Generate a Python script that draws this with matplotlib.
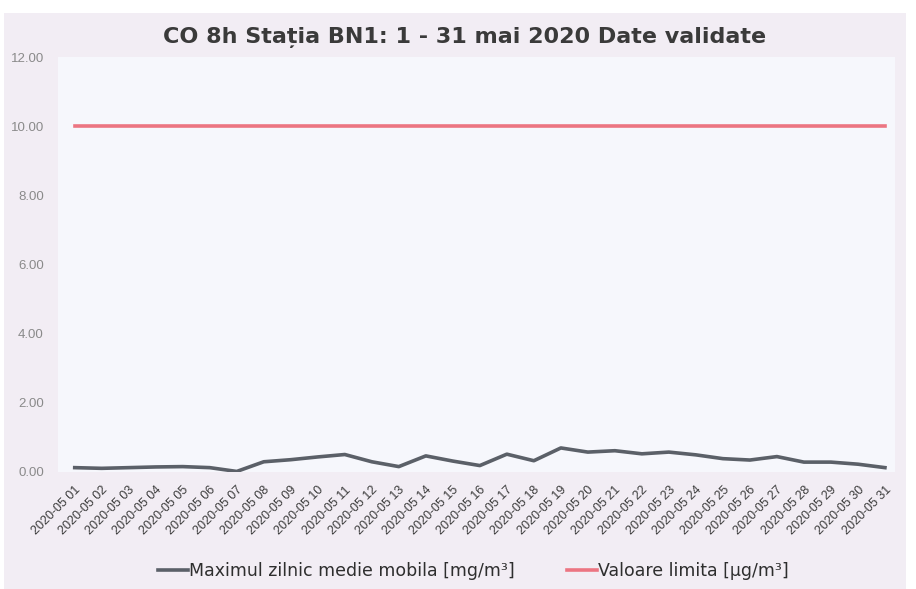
import matplotlib.pyplot as plt
from matplotlib.patches import Rectangle

plt.rcParams['font.family'] = ['Liberation Sans', 'DejaVu Sans']

# date (zile mai 2020)
zile = [f"2020-05 {d:02d}" for d in range(1, 32)]

# Maximul zilnic medie mobila [mg/m3]
co_max = [0.12, 0.10, 0.12, 0.14, 0.15, 0.12, 0.01, 0.29, 0.35, 0.43,
          0.50, 0.29, 0.15, 0.46, 0.31, 0.18, 0.51, 0.32, 0.69, 0.57,
          0.61, 0.52, 0.57, 0.49, 0.38, 0.34, 0.44, 0.28, 0.28, 0.22,
          0.12]

# valoare limita
limita = [10.0] * 31

y_ticks = [0, 2, 4, 6, 8, 10, 12]

fig = plt.figure(figsize=(9.16, 5.89), dpi=100, facecolor='white')
# fundal chart (usor roz)
fig.patches.append(Rectangle((0.004, 0.0), 0.985, 0.978, transform=fig.transFigure,
                             facecolor='#f2edf4', edgecolor='none', zorder=-5))

ax = fig.add_axes([0.063, 0.199, 0.914, 0.704])
ax.set_zorder(2)
ax.set_facecolor('#f6f7fc')

x = list(range(len(zile)))
l1, = ax.plot(x, co_max, color='#5b6068', linewidth=2.6,
              label='Maximul zilnic medie mobila [mg/m³]')
l2, = ax.plot(x, limita, color='#ec7582', linewidth=2.6,
              label='Valoare limita [µg/m³]')

ax.set_xlim(-0.63, 30.37)
ax.set_ylim(0, 12)
ax.set_yticks(y_ticks)
ax.set_yticklabels([f"{v:.2f}" for v in y_ticks], color='#8a8a8a', fontsize=9.5)
ax.set_xticks(x)
ax.set_xticklabels(zile, rotation=45, ha='right', va='top', rotation_mode='anchor',
                   fontsize=9, color='#3c3c3c')
ax.tick_params(axis='y', length=0, pad=10)
ax.tick_params(axis='x', length=0, pad=9)
for s in ax.spines.values():
    s.set_visible(False)

fig.text(0.507, 0.937, 'CO 8h Stația BN1: 1 - 31 mai 2020 Date validate',
         ha='center', va='center', fontsize=16, fontweight='bold', color='#3a3a3a',
         family='DejaVu Sans')

fig.legend(handles=[l1, l2], loc='center', bbox_to_anchor=(0.517, 0.03), ncol=2,
           frameon=False, prop={'family': 'DejaVu Sans', 'size': 12.5},
           handlelength=1.7, handletextpad=0.1,
           columnspacing=3, labelcolor='#2e2e2e')

fig.savefig('out.png', dpi=100, facecolor=fig.get_facecolor())
